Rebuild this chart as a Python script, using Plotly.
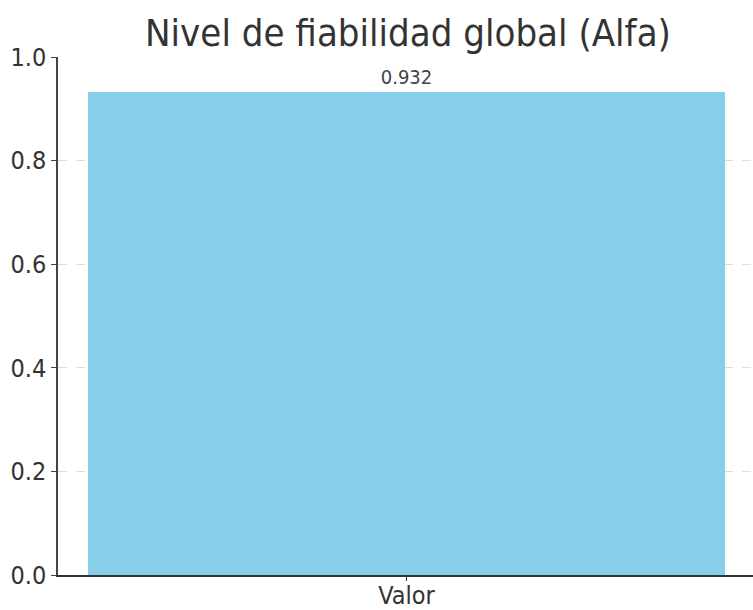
import plotly.graph_objects as go

categories = ["Valor"]
values = [0.932]
title_text = "Nivel de fiabilidad global (Alfa)"
y_ticks = [0.0, 0.2, 0.4, 0.6, 0.8, 1.0]

FONT = "DejaVu Sans Condensed, DejaVu Sans, sans-serif"

fig = go.Figure()
fig.add_trace(go.Bar(
    x=categories,
    y=values,
    width=0.8,
    marker=dict(color="#87CEEB", line=dict(width=0)),
    text=[f"{v:.3f}" for v in values],
    textposition="outside",
    textfont=dict(family=FONT, size=20, color="#444444"),
    cliponaxis=False,
    hoverinfo="skip",
))

fig.update_layout(
    width=753,
    height=610,
    margin=dict(l=58, r=0, t=57, b=35, autoexpand=False),
    paper_bgcolor="white",
    plot_bgcolor="white",
    showlegend=False,
    bargap=0,
    title=dict(
        text=title_text,
        font=dict(family=FONT, size=38, color="#333333"),
        x=408 / 753,
        xanchor="center",
        xref="container",
        y=1 - 33 / 610,
        yanchor="middle",
        yref="container",
        automargin=False,
    ),
)

fig.update_xaxes(
    type="category",
    range=[-0.4377, 0.435],
    automargin=False,
    showline=True,
    linecolor="#333333",
    linewidth=2,
    ticks="outside",
    ticklen=4,
    tickcolor="#333333",
    ticklabelstandoff=-7,
    tickfont=dict(family=FONT, size=25, color="#333333"),
    showgrid=False,
    zeroline=False,
)

fig.update_yaxes(
    range=[0, 1],
    automargin=False,
    tickvals=y_ticks,
    tickformat=".1f",
    showline=True,
    linecolor="#444444",
    linewidth=1.5,
    ticks="outside",
    ticklen=5,
    tickcolor="#444444",
    tickfont=dict(family=FONT, size=25, color="#333333"),
    showgrid=True,
    gridcolor="#dddddd",
    griddash="dash",
    gridwidth=1,
    zeroline=False,
)

fig.write_html(
    "out.html",
    config={"responsive": False, "displayModeBar": False},
    post_script="document.body.style.margin='0';document.body.style.overflow='hidden';",
)
